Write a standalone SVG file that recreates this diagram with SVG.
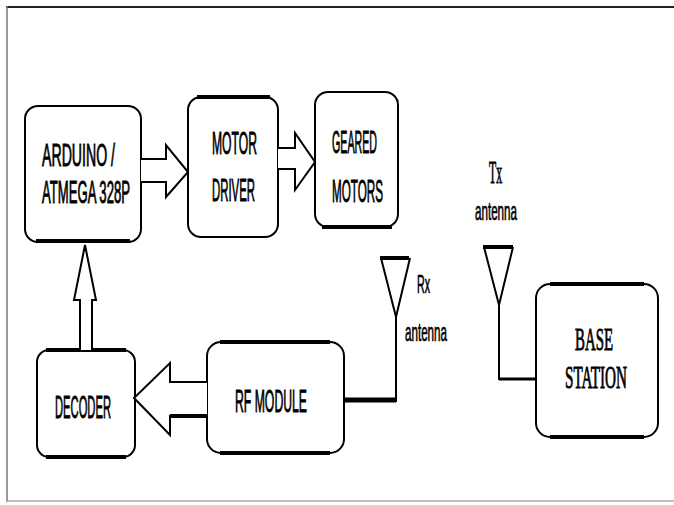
<svg xmlns="http://www.w3.org/2000/svg" width="674" height="505" viewBox="0 0 674 505">
<style>
.box{fill:#fff;stroke:#000;stroke-width:2}
.bar{stroke:#000;stroke-width:4;stroke-linecap:butt}
.lbl{font-family:"Liberation Sans",Arial,sans-serif;font-size:31px;fill:#000;stroke:#000;stroke-width:0.9}
.ser{font-family:"Liberation Serif","Times New Roman",serif;font-size:32px;fill:#000;stroke:#000;stroke-width:0.9}
.ant{font-family:"Liberation Sans",Arial,sans-serif;font-size:25px;fill:#000;stroke:#000;stroke-width:0.7}
.arr{fill:#fff;stroke:#000;stroke-width:2;stroke-linejoin:miter}
.wire{fill:none;stroke:#000;stroke-width:2}
</style>
<rect x="0" y="0" width="674" height="505" fill="#fff"/>
<line x1="6" y1="7" x2="674" y2="7" stroke="#222" stroke-width="2"/>
<line x1="7" y1="6" x2="7" y2="502" stroke="#777" stroke-width="1.5"/>
<line x1="6" y1="501" x2="674" y2="501" stroke="#aaa" stroke-width="1.5"/>

<g id="arduino">
<rect class="box" x="25" y="106" width="116" height="136" rx="13"/>
<line class="bar" x1="36" y1="241" x2="130" y2="241"/>
<text class="lbl" transform="translate(42,166) scale(0.46,1)" textLength="158.7" lengthAdjust="spacingAndGlyphs">ARDUINO /</text>
<text class="lbl" transform="translate(42,203) scale(0.46,1)" textLength="191.3" lengthAdjust="spacingAndGlyphs">ATMEGA  328P</text>
</g>
<g id="motor-driver">
<rect class="box" x="188" y="97" width="90" height="140" rx="13"/>
<line class="bar" x1="197" y1="97" x2="270" y2="97"/>
<text class="lbl" transform="translate(212,154) scale(0.46,1)" textLength="97.8" lengthAdjust="spacingAndGlyphs">MOTOR</text>
<text class="lbl" transform="translate(212,201) scale(0.46,1)" textLength="93.5" lengthAdjust="spacingAndGlyphs">DRIVER</text>
</g>
<g id="geared-motors">
<rect class="box" x="315" y="92" width="83" height="135" rx="13"/>
<line class="bar" x1="322" y1="227" x2="392" y2="227"/>
<text class="lbl" transform="translate(332,153) scale(0.46,1)" textLength="97.8" lengthAdjust="spacingAndGlyphs">GEARED</text>
<text class="lbl" transform="translate(332,202) scale(0.46,1)" textLength="110.9" lengthAdjust="spacingAndGlyphs">MOTORS</text>
</g>
<g id="decoder">
<rect class="box" x="37" y="350" width="98" height="107" rx="12"/>
<line class="bar" x1="46" y1="457" x2="126" y2="457"/>
<line class="bar" x1="46" y1="350" x2="126" y2="350" stroke-width="3"/>
<text class="lbl" transform="translate(55,418) scale(0.46,1)" textLength="121.7" lengthAdjust="spacingAndGlyphs">DECODER</text>
</g>
<g id="rf-module">
<rect class="box" x="207" y="342" width="137" height="111" rx="14"/>
<line class="bar" x1="220" y1="342" x2="330" y2="342"/>
<line class="bar" x1="220" y1="453" x2="330" y2="453" stroke-width="3"/>
<text class="lbl" transform="translate(235,412) scale(0.46,1)" textLength="156.5" lengthAdjust="spacingAndGlyphs">RF MODULE</text>
</g>
<g id="base-station">
<rect class="box" x="536" y="284" width="122" height="153" rx="14"/>
<line class="bar" x1="550" y1="284" x2="644" y2="284" stroke-width="3"/>
<line class="bar" x1="550" y1="437" x2="644" y2="437" stroke-width="3"/>
<text class="ser" transform="translate(575,350) scale(0.46,1)" textLength="82.6" lengthAdjust="spacingAndGlyphs">BASE</text>
<text class="ser" transform="translate(565,388) scale(0.46,1)" textLength="134.8" lengthAdjust="spacingAndGlyphs">STATION</text>
</g>
<g id="rx-antenna">
<path class="wire" d="M381,258 L396,317 L410,258"/>
<line class="bar" x1="380" y1="258" x2="409" y2="258" stroke-width="3"/>
<text class="ant" transform="translate(417,293) scale(0.46,1)" textLength="28.3" lengthAdjust="spacingAndGlyphs">Rx</text>
<text class="ant" transform="translate(405,341) scale(0.46,1)" textLength="91.3" lengthAdjust="spacingAndGlyphs">antenna</text>
</g>
<g id="tx-antenna">
<path class="wire" d="M484,247 L499,305 L513,247"/>
<line class="bar" x1="483" y1="247" x2="513" y2="247" stroke-width="3"/>
<text class="ser" transform="translate(489,183) scale(0.6,1)" font-size="20" textLength="21.7" lengthAdjust="spacingAndGlyphs" stroke-width="0.4">Tx</text>
<text class="ant" transform="translate(475,220) scale(0.46,1)" textLength="91.3" lengthAdjust="spacingAndGlyphs">antenna</text>
</g>

<g id="connectors">
<path class="arr" d="M141,159 H166 V145 L188,172 L166,197 V182 H141"/>
<path class="arr" d="M278,148 H295 V133 L315,162 L295,190 V169 H278"/>
<path class="arr" d="M80,350 V300 H74 L85,245 L96,300 H92 V350"/>
<path class="arr" d="M207,382 H170 V363 L134,398 L170,435 V416 H207"/>
<line x1="170" y1="416" x2="207" y2="416" stroke="#000" stroke-width="4"/>
<line x1="344" y1="400" x2="396" y2="400" stroke="#000" stroke-width="5"/>
<line x1="396" y1="317" x2="396" y2="402" stroke="#000" stroke-width="2"/>
<path class="wire" d="M499,305 V379 H536"/>
<line x1="499" y1="379" x2="536" y2="379" stroke="#000" stroke-width="3"/>
</g>
</svg>
